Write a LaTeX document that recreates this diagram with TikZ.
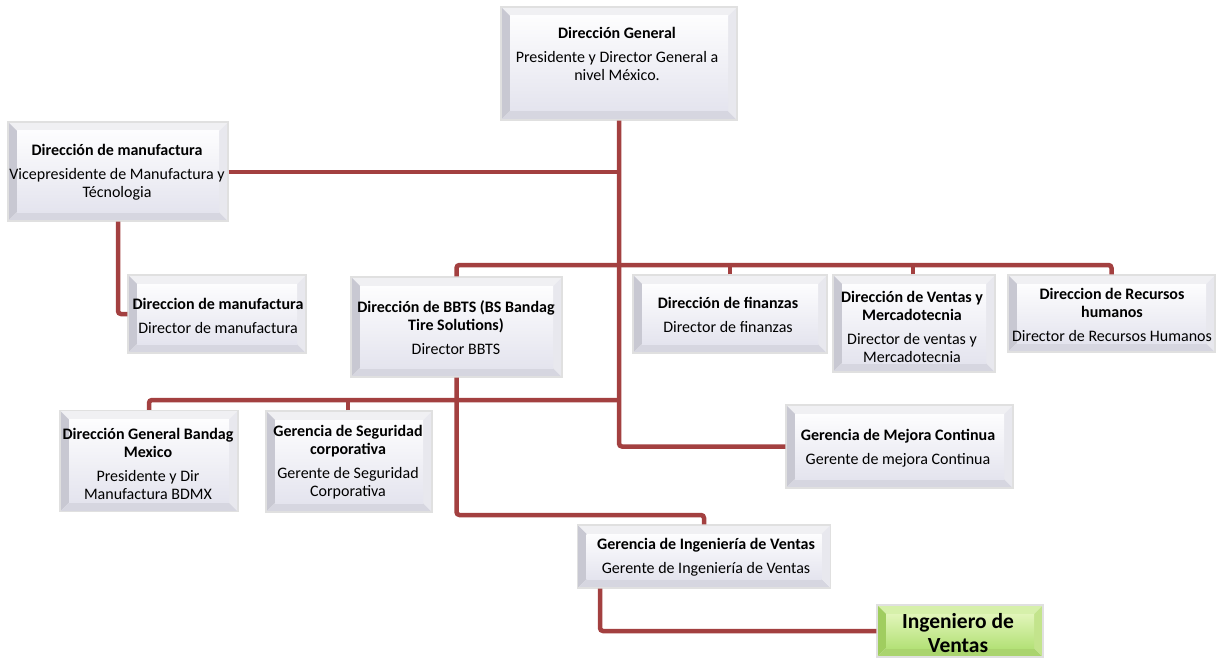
\documentclass[tikz,border=0pt]{standalone}
\usepackage{fontspec}
\setmainfont{Carlito}
\definecolor{lnc}{RGB}{163,64,64}
\definecolor{bvtop}{RGB}{240,240,243}
\definecolor{bvleft}{RGB}{200,200,210}
\definecolor{bvbot}{RGB}{214,214,224}
\definecolor{bvright}{RGB}{232,232,238}
\definecolor{fctop}{RGB}{253,253,254}
\definecolor{fcbot}{RGB}{228,228,238}
\definecolor{gvtop}{RGB}{214,240,170}
\definecolor{gvleft}{RGB}{160,205,95}
\definecolor{gvbot}{RGB}{170,212,110}
\definecolor{gvright}{RGB}{195,228,140}
\definecolor{gftop}{RGB}{225,245,185}
\definecolor{gfbot}{RGB}{180,225,120}
\newcommand\bevelpic[6]{%
  \path (path picture bounding box.south west) coordinate (bsw)
        (path picture bounding box.north east) coordinate (bne);
  \path (bsw -| bne) coordinate (bse) (bne -| bsw) coordinate (bnw);
  \fill[#1] (bnw) -- (bne) -- ([shift={(-9pt,-9pt)}]bne) -- ([shift={(9pt,-9pt)}]bnw) -- cycle;
  \fill[#2] (bnw) -- ([shift={(9pt,-9pt)}]bnw) -- ([shift={(9pt,9pt)}]bsw) -- (bsw) -- cycle;
  \fill[#3] (bsw) -- ([shift={(9pt,9pt)}]bsw) -- ([shift={(-9pt,9pt)}]bse) -- (bse) -- cycle;
  \fill[#4] (bse) -- ([shift={(-9pt,9pt)}]bse) -- ([shift={(-9pt,-9pt)}]bne) -- (bne) -- cycle;
  \shade[top color=#5, bottom color=#6] ([shift={(9pt,9pt)}]bsw) rectangle ([shift={(-9pt,-9pt)}]bne);
}
\tikzset{
  bev/.style={rectangle, inner sep=0pt, draw=black!12, line width=1.2pt,
    path picture={\bevelpic{bvtop}{bvleft}{bvbot}{bvright}{fctop}{fcbot}}},
  gbev/.style={rectangle, inner sep=0pt, draw=black!12, line width=1.2pt,
    path picture={\bevelpic{gvtop}{gvleft}{gvbot}{gvright}{gftop}{gfbot}}},
  txt/.style={align=center, inner sep=0pt, font=\fontsize{16}{18}\selectfont},
  conn/.style={draw=lnc, line width=4.5pt, rounded corners=3pt}
}
\begin{document}
\begin{tikzpicture}[x=1pt,y=-1pt]
\useasboundingbox[fill=white] (0,0) rectangle (1219,658);
% boxes
\node[bev, minimum width=236pt, minimum height=113pt] (dg) at (619,63.5) {};
\node[bev, minimum width=220pt, minimum height=99pt] (vpm) at (118,171.5) {};
\node[bev, minimum width=178pt, minimum height=78pt] (dm) at (217,314) {};
\node[bev, minimum width=211pt, minimum height=100pt] (bbts) at (456.5,327) {};
\node[bev, minimum width=194pt, minimum height=78pt] (fin) at (730,314) {};
\node[bev, minimum width=162pt, minimum height=97pt] (ven) at (914,323.5) {};
\node[bev, minimum width=207pt, minimum height=77pt] (rh) at (1111.5,313.5) {};
\node[bev, minimum width=178pt, minimum height=101pt] (dgb) at (149,461) {};
\node[bev, minimum width=166pt, minimum height=101pt] (seg) at (349,461.5) {};
\node[bev, minimum width=227pt, minimum height=83pt] (mej) at (899.5,446.5) {};
\node[bev, minimum width=253pt, minimum height=63pt] (giv) at (704,556.5) {};
\node[gbev, minimum width=166pt, minimum height=52pt] (ing) at (960,631) {};
% texts
\node[txt] (dgT) at (617,54) {\textbf{Dirección General}\\[6pt]Presidente y Director General a\\nivel México.};
\node[txt] (vpmT) at (117,172.5) {\textbf{Dirección de manufactura}\\[6pt]Vicepresidente de Manufactura y\\Técnologia};
\node[txt] (dmT) at (218,315.5) {\textbf{Direccion de manufactura}\\[6pt]Director de manufactura};
\node[txt] (bbtsT) at (456,328) {\textbf{Dirección de BBTS (BS Bandag}\\\textbf{Tire Solutions)}\\[6pt]Director BBTS};
\node[txt] (finT) at (728,315) {\textbf{Dirección de finanzas}\\[6pt]Director de finanzas};
\node[txt] (venT) at (912,326.5) {\textbf{Dirección de Ventas y}\\\textbf{Mercadotecnia}\\[6pt]Director de ventas y\\Mercadotecnia};
\node[txt] (rhT) at (1112,315) {\textbf{Direccion de Recursos}\\\textbf{humanos}\\[6pt]Director de Recursos Humanos};
\node[txt] (dgbT) at (148,464) {\textbf{Dirección General Bandag}\\\textbf{Mexico}\\[6pt]Presidente y Dir\\Manufactura BDMX};
\node[txt] (segT) at (348,462) {\textbf{Gerencia de Seguridad}\\\textbf{corporativa}\\[6pt]Gerente de Seguridad\\Corporativa};
\node[txt] (mejT) at (898,448) {\textbf{Gerencia de Mejora Continua}\\[6pt]Gerente de mejora Continua};
\node[txt] (givT) at (706,557) {\textbf{Gerencia de Ingeniería de Ventas}\\[6pt]Gerente de Ingeniería de Ventas};
\node[align=center, inner sep=0pt, font=\fontsize{21.5}{24}\selectfont\bfseries] (ingT) at (958,633) {Ingeniero de\\Ventas};
% connector coordinates
\coordinate (tVP) at (619,172);
\coordinate (tBot) at (619,400);
\coordinate (g1) at (giv.south -| 600,0);
% connectors
\draw[conn] (dg.south) |- (mej.west);
\draw[conn] (vpm.east |- tVP) -- (tVP);
\draw[conn] (vpm.south) |- (dm.west);
\draw[conn] (bbts.north) -- (bbts.north |- 0,265) -| (rh.north);
\draw[conn] (fin.north) -- (fin.north |- 0,265);
\draw[conn] (ven.north -| 913,0) -- (913,265);
\draw[conn] (dgb.north) |- (tBot);
\draw[conn] (seg.north -| 348,0) -- (348,400);
\draw[conn] (bbts.south) -- (bbts.south |- 0,515) -| (giv.north);
\draw[conn] (g1) |- (ing.west);
\end{tikzpicture}
\end{document}
